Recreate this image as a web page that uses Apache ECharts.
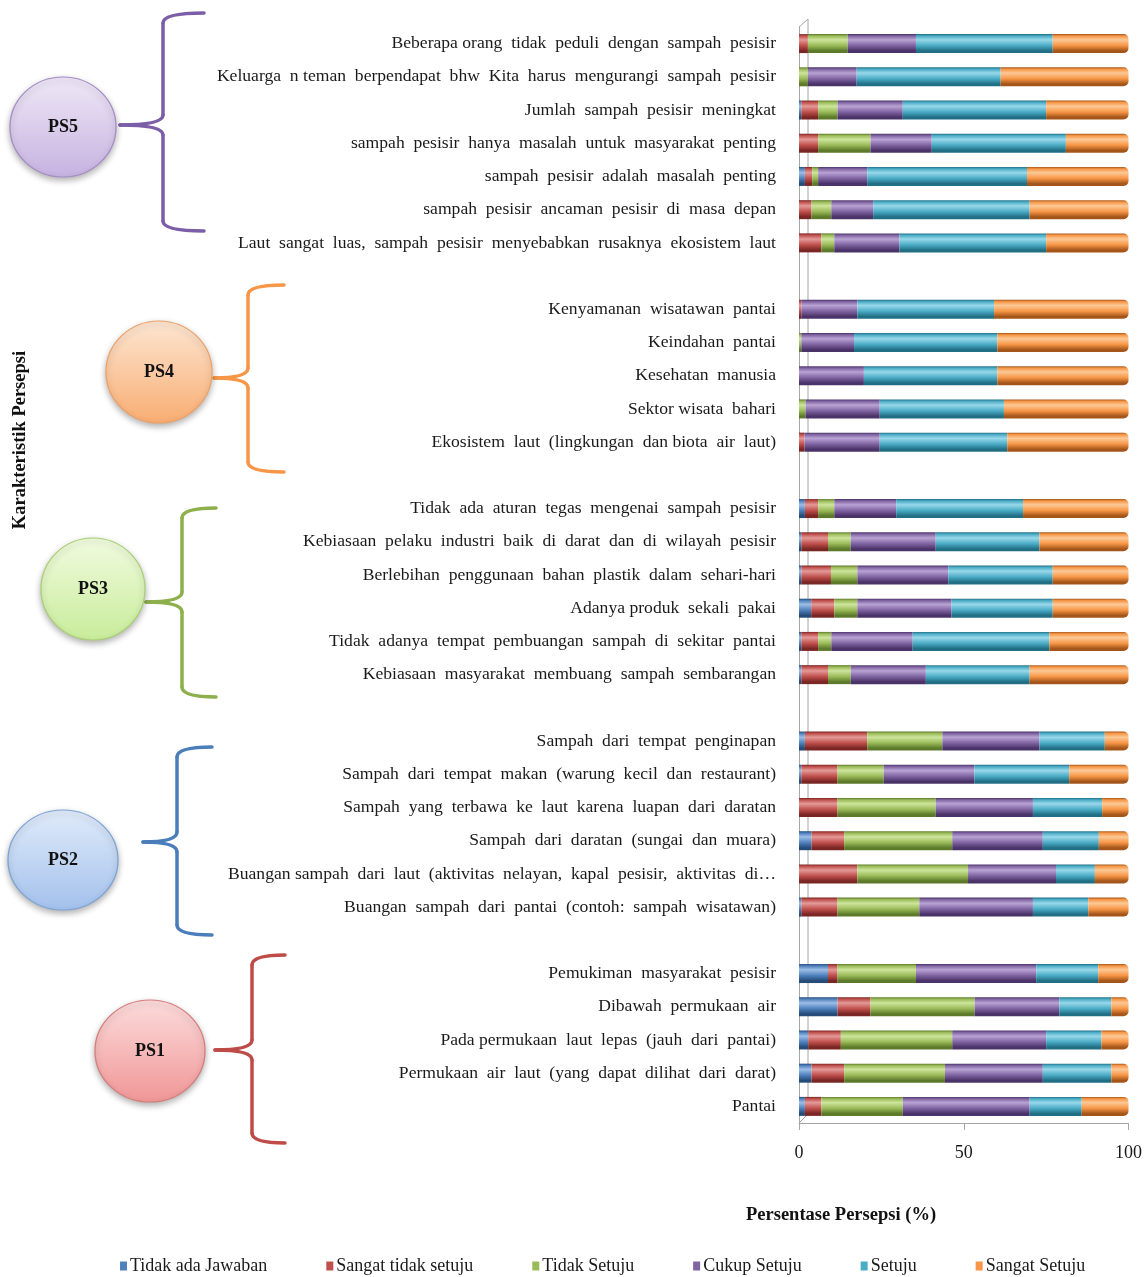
<!DOCTYPE html>
<html>
<head>
<meta charset="utf-8">
<title>Karakteristik Persepsi</title>
<script src="https://cdn.jsdelivr.net/npm/echarts@6/dist/echarts.min.js"></script>
<style>
  html, body { margin: 0; padding: 0; background: #ffffff; }
  #chart { width: 1145px; height: 1277px; }
</style>
</head>
<body>
<div id="chart"></div>
<script>
// Perception items, top to bottom; whitespace-only entries are spacer rows between groups
const categories = [
  'Beberapa orang  tidak  peduli  dengan  sampah  pesisir',
  'Keluarga  n teman  berpendapat  bhw  Kita  harus  mengurangi  sampah  pesisir',
  'Jumlah  sampah  pesisir  meningkat',
  'sampah  pesisir  hanya  masalah  untuk  masyarakat  penting',
  'sampah  pesisir  adalah  masalah  penting',
  'sampah  pesisir  ancaman  pesisir  di  masa  depan',
  'Laut  sangat  luas,  sampah  pesisir  menyebabkan  rusaknya  ekosistem  laut',
  ' ',
  'Kenyamanan  wisatawan  pantai',
  'Keindahan  pantai',
  'Kesehatan  manusia',
  'Sektor wisata  bahari',
  'Ekosistem  laut  (lingkungan  dan biota  air  laut)',
  '  ',
  'Tidak  ada  aturan  tegas  mengenai  sampah  pesisir',
  'Kebiasaan  pelaku  industri  baik  di  darat  dan  di  wilayah  pesisir',
  'Berlebihan  penggunaan  bahan  plastik  dalam  sehari-hari',
  'Adanya produk  sekali  pakai',
  'Tidak  adanya  tempat  pembuangan  sampah  di  sekitar  pantai',
  'Kebiasaan  masyarakat  membuang  sampah  sembarangan',
  '   ',
  'Sampah  dari  tempat  penginapan',
  'Sampah  dari  tempat  makan  (warung  kecil  dan  restaurant)',
  'Sampah  yang  terbawa  ke  laut  karena  luapan  dari  daratan',
  'Sampah  dari  daratan  (sungai  dan  muara)',
  'Buangan sampah  dari  laut  (aktivitas  nelayan,  kapal  pesisir,  aktivitas  di…',
  'Buangan  sampah  dari  pantai  (contoh:  sampah  wisatawan)',
  '    ',
  'Pemukiman  masyarakat  pesisir',
  'Dibawah  permukaan  air',
  'Pada permukaan  laut  lepas  (jauh  dari  pantai)',
  'Permukaan  air  laut  (yang  dapat  dilihat  dari  darat)',
  'Pantai'
];

const seriesNames = ['Tidak ada Jawaban', 'Sangat tidak setuju', 'Tidak Setuju', 'Cukup Setuju', 'Setuju', 'Sangat Setuju'];

// Percentages per answer, same order as categories (null = spacer row)
const tidakAdaJawaban = [0, 0, 0.7, 0, 1.8, 0, 0, null,
  0, 0, 0, 0, 0, null,
  1.8, 0.7, 0.7, 3.7, 0.7, 0.7, null,
  1.8, 0.7, 0, 3.8, 0, 0.7, null,
  8.8, 11.7, 2.8, 3.8, 1.8];
const sangatTidakSetuju = [2.7, 0, 5.1, 5.8, 2.2, 3.8, 6.8, null,
  0.7, 0, 0, 0, 1.7, null,
  4.0, 8.1, 9.0, 7.0, 5.1, 8.1, null,
  18.9, 11.0, 11.7, 9.9, 17.7, 11.0, null,
  2.9, 10.0, 9.9, 9.9, 5.0];
const tidakSetuju = [12.1, 2.7, 5.9, 15.9, 1.8, 6.0, 3.9, null,
  0, 0.7, 0, 2.0, 0, null,
  4.9, 6.9, 8.0, 7.0, 4.0, 6.9, null,
  22.8, 14.0, 29.8, 32.8, 33.6, 24.8, null,
  23.8, 31.6, 33.8, 30.6, 24.7];
const cukupSetuju = [20.7, 14.8, 19.8, 18.6, 14.9, 12.7, 19.8, null,
  17.0, 16.0, 19.7, 22.5, 22.8, null,
  18.8, 25.8, 27.6, 28.6, 24.7, 22.8, null,
  29.5, 27.5, 29.5, 27.5, 26.7, 34.5, null,
  36.5, 25.7, 28.5, 29.7, 38.5];
const setuju = [41.5, 43.7, 43.5, 40.7, 48.5, 47.5, 44.5, null,
  41.5, 43.5, 40.5, 37.7, 38.7, null,
  38.5, 31.5, 31.7, 30.7, 41.5, 31.5, null,
  19.8, 28.8, 21.0, 17.0, 11.8, 16.8, null,
  18.8, 15.8, 16.8, 20.8, 15.8];
const sangatSetuju = [23.0, 38.8, 25.0, 19.0, 30.8, 30.0, 25.0, null,
  40.8, 39.8, 39.8, 37.8, 36.8, null,
  32.0, 27.0, 23.0, 23.0, 24.0, 30.0, null,
  7.2, 18.0, 8.0, 9.0, 10.2, 12.2, null,
  9.2, 5.2, 8.2, 5.2, 14.2];

const xTicks = [0, 50, 100];

const seriesValues = [tidakAdaJawaban, sangatTidakSetuju, tidakSetuju, cukupSetuju, setuju, sangatSetuju];
const baseColors = ['#4f81bd', '#c0504d', '#9bbb59', '#8064a2', '#4bacc6', '#f79646'];
const lightColors = ['#9dbde6', '#e39a98', '#cde59c', '#b9a3d4', '#98d8ea', '#fcc996'];
const darkColors = ['#254b78', '#7a2624', '#5c7a2a', '#4a3368', '#216f85', '#a4561a'];

const SERIF = '"Liberation Serif", "DejaVu Serif", serif';

// cylinder-like shading across the bar thickness
function cylinder(i) {
  return {
    type: 'linear', x: 0, y: 0, x2: 0, y2: 1,
    colorStops: [
      { offset: 0, color: darkColors[i] },
      { offset: 0.1, color: baseColors[i] },
      { offset: 0.3, color: lightColors[i] },
      { offset: 0.6, color: baseColors[i] },
      { offset: 0.88, color: darkColors[i] },
      { offset: 1, color: darkColors[i] }
    ]
  };
}

// Group bubbles and curly braces on the left
const groups = [
  { label: 'PS5', cx: 63, cy: 127, rx: 53, ry: 50, top: '#efe8f7', bot: '#c6b2e0', edge: '#a48cc6', brace: '#7c5ea8', tipX: 120, tipY: 125, vx: 163, endX: 204, y0: 13, y1: 231 },
  { label: 'PS4', cx: 159, cy: 372, rx: 53, ry: 51, top: '#fde6d2', bot: '#f8ad72', edge: '#eea064', brace: '#f79646', tipX: 214, tipY: 378, vx: 248, endX: 284, y0: 285, y1: 472 },
  { label: 'PS3', cx: 93, cy: 589, rx: 52, ry: 51, top: '#f1fbdf', bot: '#c8ec9a', edge: '#a9cf72', brace: '#8db04d', tipX: 146, tipY: 602, vx: 182, endX: 216, y0: 508, y1: 697 },
  { label: 'PS2', cx: 63, cy: 860, rx: 55, ry: 50, top: '#e0ebfa', bot: '#a3c1ec', edge: '#7ea3d6', brace: '#4a7ebb', tipX: 143, tipY: 842, vx: 177, endX: 212, y0: 747, y1: 935 },
  { label: 'PS1', cx: 150, cy: 1051, rx: 55, ry: 51, top: '#fcdcdc', bot: '#f09696', edge: '#d67c7c', brace: '#be4b48', tipX: 215, tipY: 1050, vx: 252, endX: 285, y0: 955, y1: 1143 }
];

// A curly brace built from straight segments and quadratic curves
function braceParts(g) {
  const r = 10;
  const st = { stroke: g.brace, lineWidth: 3.5, lineCap: 'round', fill: 'none' };
  const curve = function (x1, y1, cx, cy, x2, y2) {
    return { type: 'bezierCurve', shape: { x1: x1, y1: y1, cpx1: cx, cpy1: cy, x2: x2, y2: y2 }, style: st, silent: true };
  };
  const line = function (x1, y1, x2, y2) {
    return { type: 'line', shape: { x1: x1, y1: y1, x2: x2, y2: y2 }, style: st, silent: true };
  };
  return [
    curve(g.endX, g.y0, g.vx, g.y0, g.vx, g.y0 + r),
    line(g.vx, g.y0 + r, g.vx, g.tipY - r),
    curve(g.vx, g.tipY - r, g.vx, g.tipY, g.tipX, g.tipY),
    curve(g.tipX, g.tipY, g.vx, g.tipY, g.vx, g.tipY + r),
    line(g.vx, g.tipY + r, g.vx, g.y1 - r),
    curve(g.vx, g.y1 - r, g.vx, g.y1, g.endX, g.y1)
  ];
}

const graphics = [];
groups.forEach(function (g) {
  braceParts(g).forEach(function (p) { graphics.push(p); });
  graphics.push({
    type: 'circle',
    x: g.cx, y: g.cy,
    scaleX: g.rx / g.ry,
    shape: { cx: 0, cy: 0, r: g.ry },
    style: {
      fill: { type: 'linear', x: 0, y: 0, x2: 0, y2: 1, colorStops: [{ offset: 0, color: g.top }, { offset: 1, color: g.bot }] },
      stroke: g.edge, lineWidth: 1.2,
      shadowBlur: 6, shadowOffsetY: 3, shadowColor: 'rgba(0,0,0,0.3)'
    },
    silent: true
  });
  graphics.push({
    type: 'text',
    x: g.cx, y: g.cy,
    style: { text: g.label, font: 'bold 18px ' + SERIF, fill: '#111', align: 'center', verticalAlign: 'middle' },
    silent: true
  });
});

// Axis titles
graphics.push({
  type: 'text',
  x: 20, y: 440, rotation: Math.PI / 2,
  style: { text: 'Karakteristik Persepsi', font: 'bold 18.5px ' + SERIF, fill: '#111', align: 'center', verticalAlign: 'middle' },
  silent: true
});
graphics.push({
  type: 'text',
  x: 841, y: 1215,
  style: { text: 'Persentase Persepsi (%)', font: 'bold 18.5px ' + SERIF, fill: '#111', align: 'center', verticalAlign: 'middle' },
  silent: true
});
// back wall and floor edge of the plot box
graphics.push({
  type: 'polyline',
  shape: { points: [[799, 27], [808, 19], [808, 1114], [799, 1123]] },
  style: { fill: 'none', stroke: '#a6a6a6', lineWidth: 1 },
  silent: true
});

const chart = echarts.init(document.getElementById('chart'), null, { renderer: 'canvas' });

chart.setOption({
  animation: false,
  backgroundColor: '#ffffff',
  grid: { left: 799, right: 13, top: 27, bottom: 154, containLabel: false },
  legend: {
    left: 115, top: 1252,
    itemWidth: 7, itemHeight: 9, itemGap: 59,
    icon: 'rect',
    textStyle: { fontFamily: SERIF, fontSize: 18, color: '#1a1a1a', padding: [0, 0, 0, -2] },
    data: seriesNames.map(function (n, i) { return { name: n, itemStyle: { color: baseColors[i] } }; })
  },
  xAxis: {
    type: 'value',
    min: xTicks[0], max: xTicks[xTicks.length - 1], interval: 50,
    splitLine: { show: false },
    axisLine: { show: true, lineStyle: { color: '#a6a6a6', width: 1 } },
    axisTick: { show: true, length: 7, lineStyle: { color: '#a6a6a6' } },
    axisLabel: { fontFamily: SERIF, fontSize: 18, color: '#1a1a1a', margin: 21 }
  },
  yAxis: {
    type: 'category',
    inverse: true,
    data: categories,
    axisLine: { show: true, lineStyle: { color: '#a6a6a6', width: 1 } },
    axisTick: { show: false },
    axisLabel: { interval: 0, fontFamily: SERIF, fontSize: 17.6, color: '#1a1a1a', margin: 23 }
  },
  series: seriesNames.map(function (name, i) {
    const style = { color: cylinder(i) };
    if (i === seriesNames.length - 1) style.borderRadius = [0, 5, 5, 0];
    return {
      name: name,
      type: 'bar',
      stack: 'total',
      barWidth: 19,
      data: seriesValues[i],
      itemStyle: style,
      emphasis: { disabled: true }
    };
  }),
  graphic: graphics
});
</script>
</body>
</html>
